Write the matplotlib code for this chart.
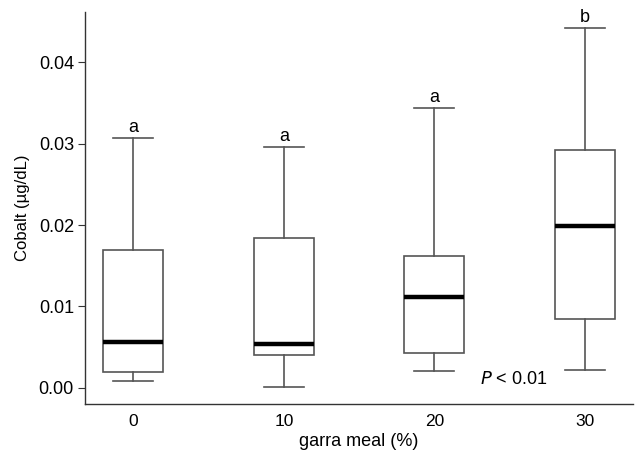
import matplotlib
matplotlib.use("Agg")
import matplotlib.pyplot as plt

plt.rcParams["font.family"] = ["Liberation Sans", "DejaVu Sans"]

# data
groups = ["0", "10", "20", "30"]
whisker_low = [0.00086, 0.0001, 0.00203, 0.00215]
q1 = [0.00197, 0.00403, 0.00428, 0.00846]
median = [0.00558, 0.00535, 0.0112, 0.0199]
q3 = [0.01687, 0.01846, 0.0162, 0.0292]
whisker_high = [0.03067, 0.02956, 0.0344, 0.0442]
letters = ["a", "a", "a", "b"]

EDGE = "#555555"

stats = []
for i, g in enumerate(groups):
    stats.append({
        "label": g,
        "whislo": whisker_low[i],
        "q1": q1[i],
        "med": median[i],
        "q3": q3[i],
        "whishi": whisker_high[i],
        "fliers": [],
    })

fig = plt.figure(figsize=(6.35, 4.55), dpi=100)
ax = fig.add_axes([0.134, 0.112, 0.863, 0.862])

ax.bxp(stats, positions=range(len(groups)), widths=0.4, showfliers=False,
       patch_artist=True,
       boxprops=dict(facecolor="white", edgecolor=EDGE, linewidth=1.2),
       whiskerprops=dict(color=EDGE, linewidth=1.2),
       capprops=dict(color=EDGE, linewidth=1.2),
       medianprops=dict(color="black", linewidth=3.2, solid_capstyle="butt"),
       capwidths=0.265)

for i, lt in enumerate(letters):
    ax.annotate(lt, (i, whisker_high[i]), xytext=(0, 1.5),
                textcoords="offset points", ha="center", va="bottom", fontsize=13)

ax.text(2.30, 0.001, r"$\it{P}$ < 0.01", ha="left", va="center", fontsize=13)

ax.set_xlim(-0.32, 3.32)
ax.set_ylim(-0.002, 0.0462)
ax.set_yticks([0.0, 0.01, 0.02, 0.03, 0.04])
ax.set_yticklabels(["0.00", "0.01", "0.02", "0.03", "0.04"])
ax.set_xticks(range(len(groups)))
ax.set_xticklabels(groups)

ax.spines["top"].set_visible(False)
ax.spines["right"].set_visible(False)
for s in ("left", "bottom"):
    ax.spines[s].set_color("#333333")
    ax.spines[s].set_linewidth(1.0)
ax.tick_params(axis="y", direction="out", length=5, color="#333333",
               labelsize=13, pad=3)
ax.tick_params(axis="x", length=0, labelsize=12.5, pad=7)

ax.set_xlabel("garra meal (%)", fontsize=13, labelpad=3)
ax.set_ylabel("Cobalt (µg/dL)", fontsize=12, labelpad=6)

fig.savefig("out.png", dpi=100, facecolor="white")
